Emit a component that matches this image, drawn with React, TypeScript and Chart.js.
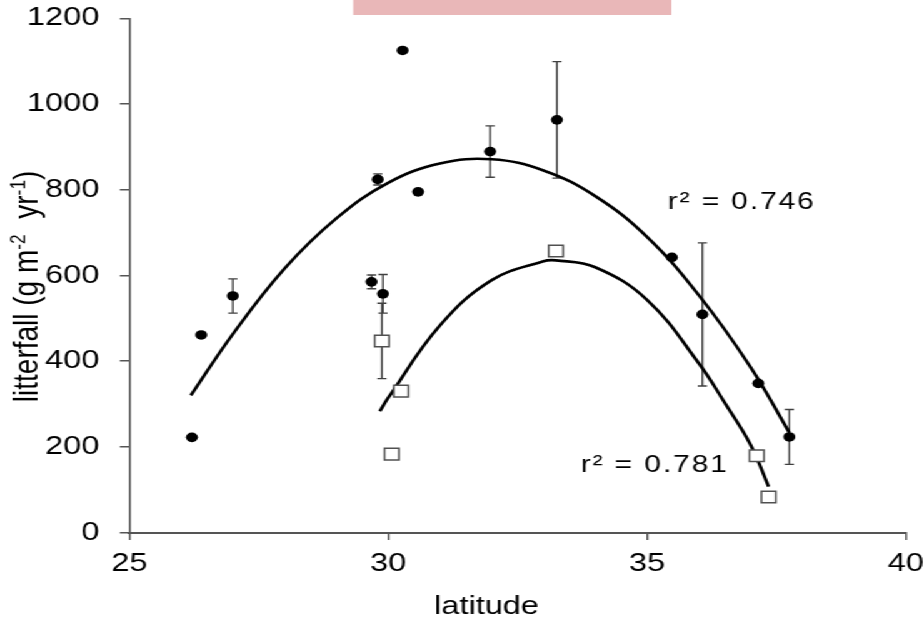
import React, { useEffect, useRef } from 'react';
import { Chart, registerables } from 'chart.js';

Chart.register(...registerables);

// ---- data ----
const latitudeFilled = [26.21, 26.39, 27.0, 29.68, 29.9, 29.8, 30.28, 30.58, 31.97, 33.26, 35.48, 36.07, 37.15, 37.75];
const litterfallFilled = [222, 461, 552, 585, 557, 824, 1125, 795, 889, 963, 642, 509, 348, 223];
const errorFilled = [0, 0, 40, 16, 45, 13, 0, 0, 60, 136, 0, 167, 0, 64];

const latitudeOpen = [29.88, 30.25, 30.07, 33.24, 37.12, 37.35];
const litterfallOpen = [447, 330, 183, 657, 179, 83];
const errorOpen = [88, 0, 0, 0, 0, 0];

const fitFilledLat = [26.19, 27, 28, 29, 30, 31, 32, 33, 34, 35, 36, 37, 37.75];
const fitFilledVal = [320, 463, 616, 733, 816, 861, 871, 845, 785, 690, 554, 386, 233];
const fitOpenLat = [29.84, 30, 31, 32, 33, 33.24, 34, 35, 36, 36.5, 37, 37.35];
const fitOpenVal = [283, 314, 483, 589, 633, 635, 619, 543, 395, 303, 205, 107];

const xTickValues = [25, 30, 35, 40];
const yTickValues = [0, 200, 400, 600, 800, 1000, 1200];

const fitLabels = ['r\u00B2 = 0.746', 'r\u00B2 = 0.781'];
const xTitle = 'latitude';
const yTitleParts = ['litterfall (g m', '-2', '  yr', '-1', ')'];

// ---- rendering constants ----
const W = 739;
const H = 622;
const STRETCH = 924 / W;
const FONT = "'Liberation Sans', Arial, Helvetica, sans-serif";

const toXY = (xs: number[], ys: number[]) => xs.map((x, i) => ({ x, y: ys[i] }));

const zeroPad = (axis: any) => {
  axis.paddingTop = 0;
  axis.paddingBottom = 0;
  axis.paddingLeft = 0;
  axis.paddingRight = 0;
};

const errorBarPlugin = {
  id: 'errorBars',
  beforeDatasetsDraw(chart: any) {
    const { ctx, scales } = chart;
    const xs = scales.x;
    const ys = scales.y;
    ctx.save();
    ctx.strokeStyle = '#404040';
    ctx.lineWidth = 1.4;
    const cap = 3.7;
    const draw = (lats: number[], vals: number[], errs: number[]) => {
      lats.forEach((lat, i) => {
        const e = errs[i];
        if (!e) return;
        const px = xs.getPixelForValue(lat);
        const top = ys.getPixelForValue(vals[i] + e);
        const bot = ys.getPixelForValue(vals[i] - e);
        ctx.beginPath();
        ctx.moveTo(px, top);
        ctx.lineTo(px, bot);
        ctx.moveTo(px - cap, top);
        ctx.lineTo(px + cap, top);
        ctx.moveTo(px - cap, bot);
        ctx.lineTo(px + cap, bot);
        ctx.stroke();
      });
    };
    draw(latitudeFilled, litterfallFilled, errorFilled);
    draw(latitudeOpen, litterfallOpen, errorOpen);
    ctx.restore();
  },
};

const decorPlugin = {
  id: 'decor',
  beforeDraw(chart: any) {
    const { ctx } = chart;
    ctx.save();
    ctx.fillStyle = '#e9b7b8';
    ctx.fillRect(282.5, 0, 254.5, 15);
    ctx.restore();
  },
  afterDraw(chart: any) {
    const { ctx, chartArea, scales } = chart;
    ctx.save();
    ctx.fillStyle = '#000';

    // x title
    ctx.font = `26px ${FONT}`;
    ctx.textAlign = 'center';
    ctx.textBaseline = 'alphabetic';
    ctx.fillText(xTitle, chartArea.left + chartArea.width * 0.46, chart.height - 8);

    // y title with superscripts
    const F = 28;
    const SF = F * 0.62;
    const widths = yTitleParts.map((t, i) => {
      ctx.font = `${i % 2 === 1 ? SF : F}px ${FONT}`;
      return ctx.measureText(t).width;
    });
    const total = widths.reduce((a, b) => a + b, 0);
    ctx.save();
    ctx.translate(30, (chartArea.top + chartArea.bottom) / 2 + 11);
    ctx.rotate(-Math.PI / 2);
    ctx.textAlign = 'left';
    let pos = -total / 2;
    yTitleParts.forEach((t, i) => {
      const sup = i % 2 === 1;
      ctx.font = `${sup ? SF : F}px ${FONT}`;
      ctx.fillText(t, pos, sup ? -F * 0.36 : 0);
      pos += widths[i];
    });
    ctx.restore();

    // r² labels
    const anchors = [
      { x: 35.4, y: 754 },
      { x: 33.72, y: 142 },
    ];
    ctx.font = `24px ${FONT}`;
    ctx.textAlign = 'left';
    (ctx as any).letterSpacing = '1.5px';
    fitLabels.forEach((t, i) => {
      ctx.fillText(t, scales.x.getPixelForValue(anchors[i].x), scales.y.getPixelForValue(anchors[i].y));
    });
    (ctx as any).letterSpacing = '0px';
    ctx.restore();
  },
};

export default function App() {
  const ref = useRef<HTMLCanvasElement | null>(null);

  useEffect(() => {
    if (!ref.current) return;
    const chart = new Chart(ref.current, {
      type: 'scatter',
      data: {
        datasets: [
          {
            label: 'filled',
            data: toXY(latitudeFilled, litterfallFilled),
            pointStyle: 'circle',
            pointRadius: 4.8,
            backgroundColor: '#000',
            borderColor: '#000',
            borderWidth: 0,
            order: 0,
          },
          {
            label: 'open',
            data: toXY(latitudeOpen, litterfallOpen),
            pointStyle: 'rect',
            pointRadius: 8.2,
            backgroundColor: '#fff',
            borderColor: '#505050',
            borderWidth: 1.5,
            order: 1,
          },
          {
            label: 'fit filled',
            type: 'line',
            data: toXY(fitFilledLat, fitFilledVal),
            showLine: true,
            pointRadius: 0,
            borderColor: '#000',
            borderWidth: 2.7,
            tension: 0.4,
            fill: false,
            order: 2,
          } as any,
          {
            label: 'fit open',
            type: 'line',
            data: toXY(fitOpenLat, fitOpenVal),
            showLine: true,
            pointRadius: 0,
            borderColor: '#000',
            borderWidth: 2.7,
            tension: 0.4,
            fill: false,
            order: 3,
          } as any,
        ],
      },
      options: {
        animation: false,
        responsive: false,
        devicePixelRatio: 1,
        layout: { padding: { left: 0, right: 14.5, top: 18.3, bottom: 0 } },
        plugins: {
          legend: { display: false },
          tooltip: { enabled: false },
          title: { display: false },
        },
        scales: {
          x: {
            type: 'linear',
            min: 25,
            max: 40,
            afterBuildTicks: (axis: any) => {
              axis.ticks = xTickValues.map((v) => ({ value: v }));
            },
            afterFit: (axis: any) => {
              axis.height = 89.5;
              zeroPad(axis);
            },
            ticks: {
              color: '#000',
              font: { family: FONT, size: 26 },
              padding: 8,
              maxRotation: 0,
              callback: (v: any) => String(v),
            },
            grid: {
              drawOnChartArea: false,
              drawTicks: true,
              tickLength: 7.6,
              color: '#555',
              lineWidth: 1.5,
            },
            border: { display: true, color: '#555', width: 2 },
          },
          y: {
            type: 'linear',
            min: 0,
            max: 1200,
            afterBuildTicks: (axis: any) => {
              axis.ticks = yTickValues.map((v) => ({ value: v }));
            },
            afterFit: (axis: any) => {
              axis.width = 103.4;
              zeroPad(axis);
            },
            ticks: {
              color: '#000',
              font: { family: FONT, size: 26 },
              padding: 16.4,
              callback: (v: any) => String(v),
            },
            grid: {
              drawOnChartArea: false,
              drawTicks: true,
              tickLength: 7.6,
              color: '#555',
              lineWidth: 1.5,
            },
            border: { display: true, color: '#555', width: 1.6 },
          },
        },
      },
      plugins: [errorBarPlugin, decorPlugin],
    });
    return () => chart.destroy();
  }, []);

  return (
    <div
      style={{
        position: 'absolute',
        left: 0,
        top: 0,
        width: W,
        height: H,
        background: '#fff',
        transform: `scaleX(${STRETCH})`,
        transformOrigin: '0 0',
      }}
    >
      <canvas ref={ref} width={W} height={H} style={{ display: 'block', width: W, height: H }} />
    </div>
  );
}
